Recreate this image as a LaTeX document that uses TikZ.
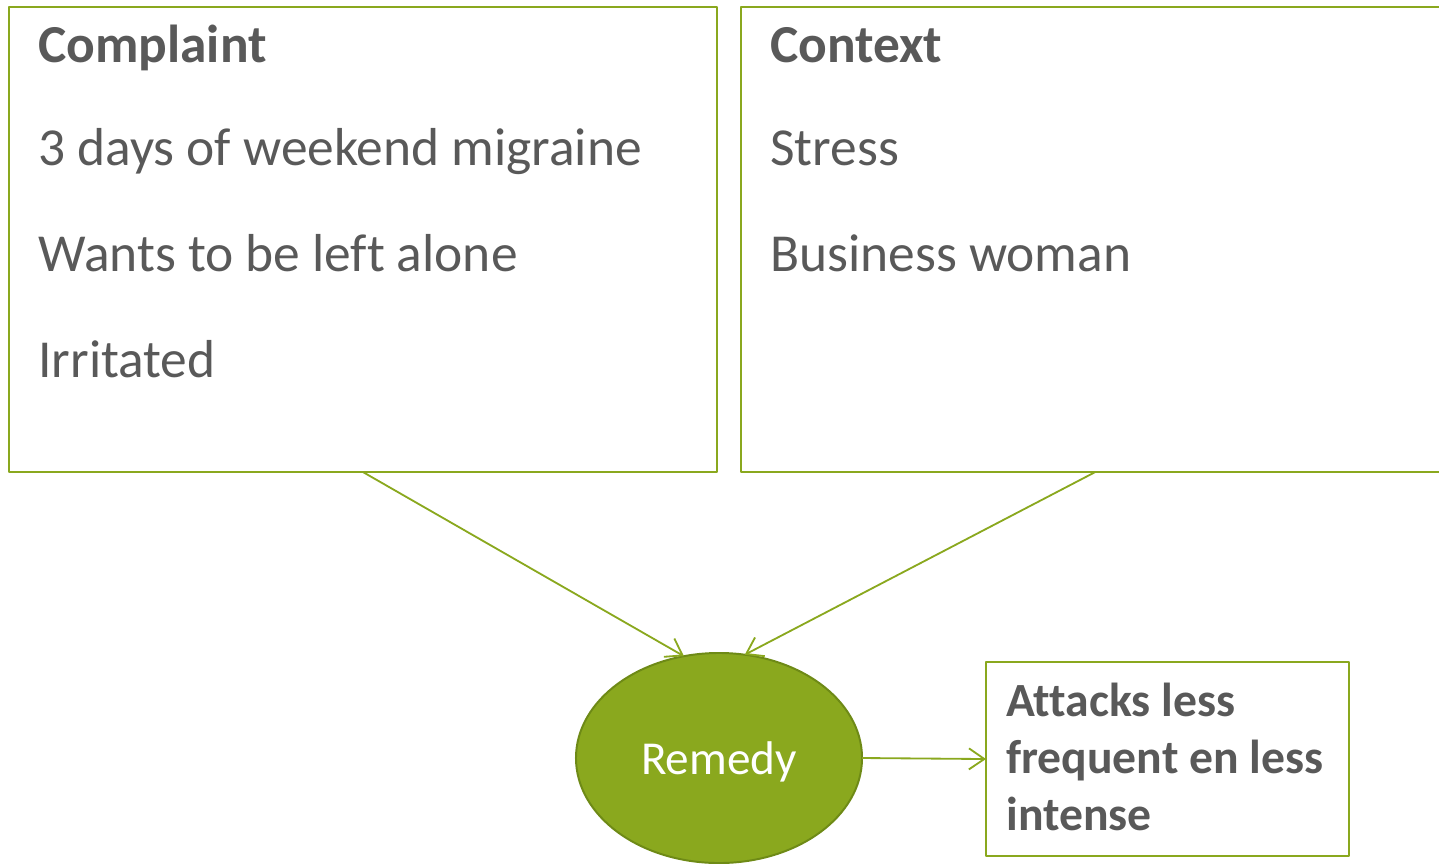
\documentclass[tikz,border=0pt]{standalone}
\usepackage{fontspec}
\setmainfont{Carlito}[Ligatures=NoCommon]
\usetikzlibrary{arrows.meta,shapes.geometric}
\definecolor{leafgreen}{HTML}{8AA81E}
\definecolor{darkleaf}{HTML}{6E8A16}
\definecolor{textgray}{HTML}{595959}
\tikzset{>={Straight Barb[length=11pt,width=15pt]}}

\begin{document}
\begin{tikzpicture}[x=0.025cm, y=-0.025cm, line join = round,
    box/.style={draw=leafgreen, line width=1.4pt, inner sep=0pt, outer sep=0pt, anchor=north west},
    bigtext/.style={anchor=base west, inner sep=0pt, text=textgray, font=\fontsize{38}{45}\selectfont},
    smalltext/.style={anchor=base west, inner sep=0pt, text=textgray, font=\fontsize{33.9}{40}\selectfont\bfseries},
    link/.style={->, draw=leafgreen, line width=1.3pt}]
    \useasboundingbox (0,0) rectangle (1439,863);

    % boxes
    \node[box, minimum width=17.7cm, minimum height=11.625cm] (complaint) at (9,7) {};
    \node[box, minimum width=17.7cm, minimum height=11.625cm] (context) at (741,7) {};
    \node[box, minimum width=9.075cm, minimum height=4.85cm] (outcome) at (986,662) {};
    \node[ellipse, fill=leafgreen, draw=darkleaf, line width=1.4pt, outer sep=0pt,
          minimum width=7.15cm, minimum height=5.25cm, text=white, text depth=0pt,
          font=\fontsize{33.6}{40}\selectfont] (remedy) at (719,758) {Remedy};

    % texts
    \node[bigtext, font=\fontsize{38}{45}\selectfont\bfseries] (complainttitle) at (38,62) {Complaint};
    \foreach \txt [count=\k] in {3 days of weekend migraine, Wants to be left alone, Irritated}
    {
    \node[bigtext] (complaint\k) at (38,59+106*\k) {\txt};
    }
    \node[bigtext, font=\fontsize{38}{45}\selectfont\bfseries] (contexttitle) at (770,62) {Context};
    \foreach \txt [count=\k] in {Stress, Business woman}
    {
    \node[bigtext] (context\k) at (770,59+106*\k) {\txt};
    }
    \foreach \txt [count=\k] in {Attacks less, frequent en less, intense}
    {
    \node[smalltext] (outcome\k) at (1006,659+57*\k) {\txt};
    }

    % arrows
    \draw[link] (complaint.south) -- (remedy.109);
    \draw[link] (context.south) -- (remedy.76);
    \draw[link] (remedy.east) -- (outcome.west);
\end{tikzpicture}
\end{document}
